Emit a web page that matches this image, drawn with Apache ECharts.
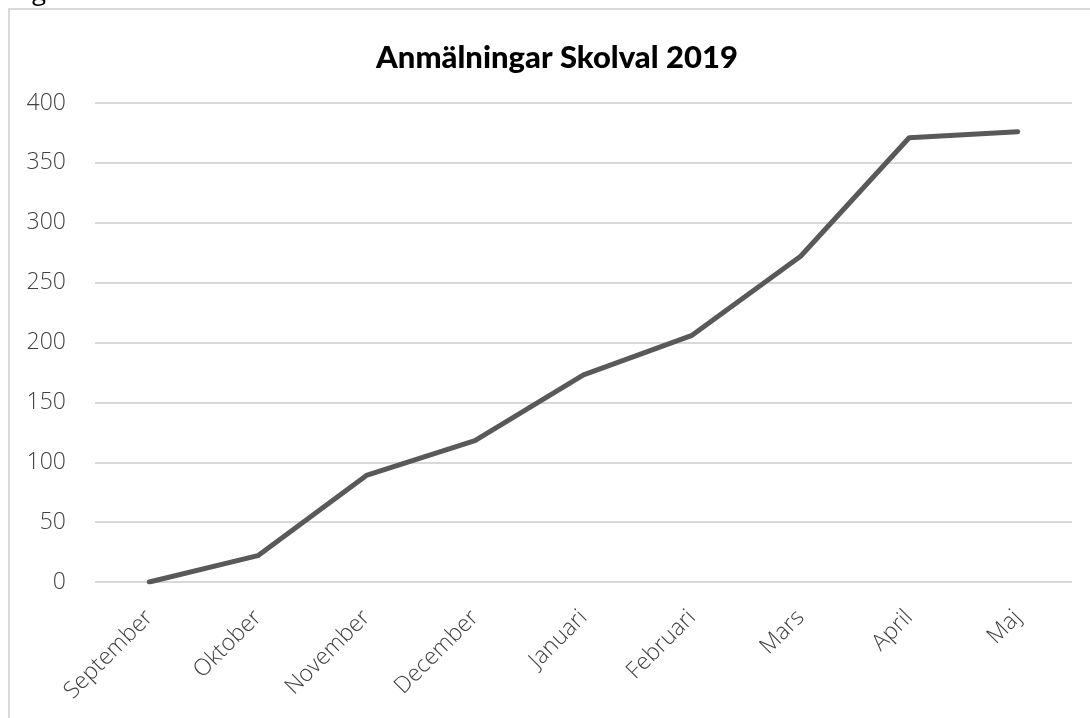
<!DOCTYPE html>
<html>
<head>
<meta charset="utf-8">
<script src="https://cdn.jsdelivr.net/npm/echarts@6/dist/echarts.min.js"></script>
<style>
  html, body { margin: 0; padding: 0; background: #fff; }
  #chart { width: 1090px; height: 718px; }
</style>
</head>
<body>
<div id="chart"></div>
<script>
const months = ['September', 'Oktober', 'November', 'December', 'Januari', 'Februari', 'Mars', 'April', 'Maj']
const signups = [0, 22, 89, 118, 173, 206, 272, 371, 376]

const labelFont = '"Open Sans", "Noto Sans", sans-serif'

const chart = echarts.init(document.getElementById('chart'))

chart.setOption({
  animation: false,
  title: {
    text: 'Anmälningar Skolval 2019',
    left: 552,
    textAlign: 'center',
    top: 37,
    textStyle: {
      fontFamily: 'Lato',
      fontWeight: 900,
      fontSize: 31,
      color: '#000',
    },
  },
  graphic: [
    {
      type: 'rect',
      shape: { x: 9, y: 9, width: 1100, height: 730 },
      style: { fill: 'none', stroke: '#d9d9d9', lineWidth: 2 },
      silent: true,
    },
    {
      type: 'text',
      left: 32,
      top: -20,
      style: { text: 'g', fontSize: 26, fontFamily: labelFont, fill: '#000' },
    },
  ],
  grid: {
    left: 95,
    right: 18,
    top: 103,
    bottom: 136,
  },
  xAxis: {
    type: 'category',
    data: months,
    boundaryGap: true,
    axisLine: { show: false },
    axisTick: { show: false },
    axisLabel: {
      rotate: 45,
      margin: 32,
      fontSize: 23,
      fontFamily: labelFont,
      fontWeight: 300,
      color: '#404040',
      interval: 0,
    },
  },
  yAxis: {
    type: 'value',
    min: 0,
    max: 400,
    interval: 50,
    axisLine: { show: false },
    axisTick: { show: false },
    axisLabel: {
      margin: 29,
      fontSize: 23,
      fontFamily: labelFont,
      fontWeight: 300,
      color: '#404040',
    },
    splitLine: {
      lineStyle: { color: '#d9d9d9', width: 2 },
    },
  },
  series: [
    {
      type: 'line',
      data: signups,
      symbol: 'none',
      lineStyle: { color: '#595959', width: 5, cap: 'round', join: 'round' },
    },
  ],
})
</script>
</body>
</html>
